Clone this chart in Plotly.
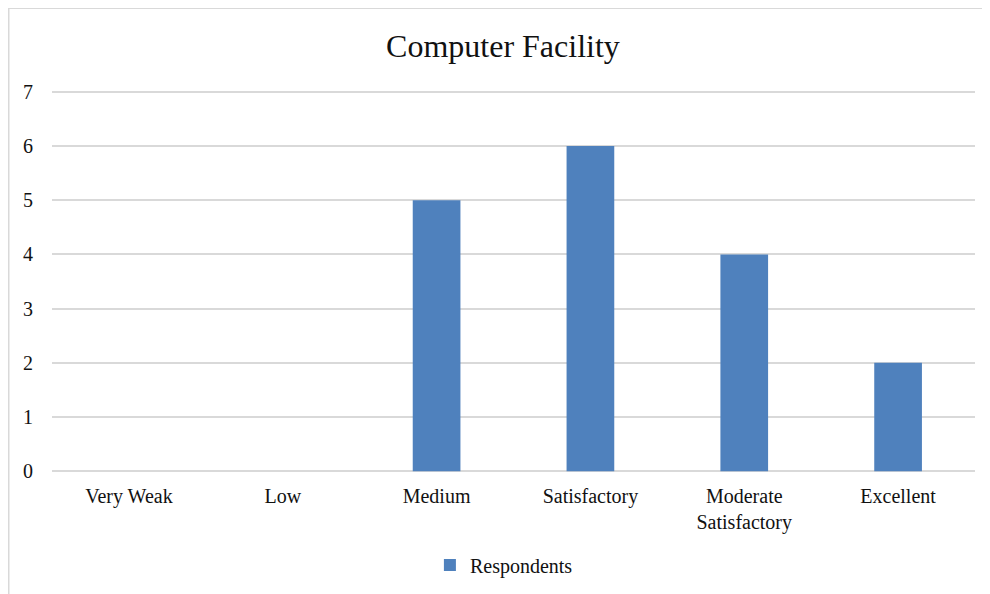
import plotly.graph_objects as go

categories = ["Very Weak", "Low", "Medium", "Satisfactory", "Moderate<br>Satisfactory", "Excellent"]
respondents = [0, 0, 5, 6, 4, 2]
y_ticks = [0, 1, 2, 3, 4, 5, 6, 7]

SERIF = "Liberation Serif, Times New Roman, serif"

fig = go.Figure()
fig.add_trace(go.Bar(
    x=categories, y=respondents, name="Respondents",
    marker=dict(color="#4F81BD", line=dict(width=0)),
    showlegend=True,
))

W, H = 982, 586
PAD = 0.03
unit = 379 / 7
L = 44
R = W - 967
T = 84 - PAD * unit
bottom = 463 + PAD * unit
B = H - bottom
pw, ph = W - L - R, bottom - T

fig.update_layout(
    width=W, height=H,
    margin=dict(l=L, r=R, t=T, b=B, autoexpand=False),
    paper_bgcolor="white", plot_bgcolor="white",
    bargap=0.69,
    font=dict(family=SERIF, size=20, color="#111111"),
    title=dict(text="Computer Facility", x=0.504, xanchor="center",
               y=1 - 38 / H, yanchor="middle",
               font=dict(family=SERIF, size=32, color="#111111")),
    legend=dict(orientation="h", x=0.505, xanchor="center",
                xref="container", yref="container",
                y=1 - 557 / H, yanchor="middle",
                font=dict(family=SERIF, size=20, color="#111111"),
                itemwidth=30),
    xaxis=dict(showgrid=False, showline=False, zeroline=False,
               automargin=False,
               ticks="outside", ticklen=5, tickcolor="rgba(0,0,0,0)",
               tickfont=dict(family=SERIF, size=20)),
    yaxis=dict(range=[-PAD, 7 + PAD], tickvals=y_ticks, showgrid=True,
               gridcolor="#D9D9D9", gridwidth=1.5,
               zeroline=True, zerolinecolor="#D9D9D9", zerolinewidth=1.5,
               automargin=False,
               showline=False, ticks="outside", ticklen=14,
               tickcolor="rgba(0,0,0,0)",
               tickfont=dict(family=SERIF, size=20)),
)

# Outer chart frame
fig.add_shape(type="rect", xref="paper", yref="paper",
              x0=(0.75 - L) / pw, x1=(W + 10 - L) / pw,
              y0=-(H + 10 - bottom) / ph, y1=(bottom - 0.75) / ph,
              line=dict(color="#D9D9D9", width=1.5), layer="below")

fig.write_html("out.html")
